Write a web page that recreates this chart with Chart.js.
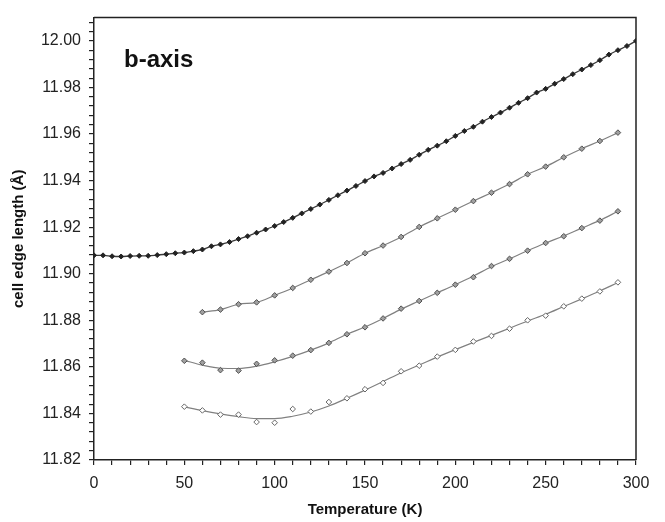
<!DOCTYPE html>
<html>
<head>
<meta charset="utf-8">
<script src="https://cdn.jsdelivr.net/npm/chart.js@4.4.1/dist/chart.umd.min.js"></script>
<style>
  html, body { margin: 0; padding: 0; background: #fff; }
  #wrap { width: 665px; height: 522px; }
</style>
</head>
<body>
<div id="wrap"><canvas id="chart" width="665" height="522"></canvas></div>
<script>
// axis tick labels
const xMajorLabels = [0, 50, 100, 150, 200, 250, 300];
const yMajorLabels = ['11.82', '11.84', '11.86', '11.88', '11.90', '11.92', '11.94', '11.96', '11.98', '12.00'];

// top curve (filled markers, every 5 K)
const tempTop = [0, 5, 10, 15, 20, 25, 30, 35, 40, 45, 50, 55, 60, 65, 70, 75, 80, 85, 90, 95,
  100, 105, 110, 115, 120, 125, 130, 135, 140, 145, 150, 155, 160, 165, 170, 175, 180, 185, 190, 195,
  200, 205, 210, 215, 220, 225, 230, 235, 240, 245, 250, 255, 260, 265, 270, 275, 280, 285, 290, 295, 300];
const cellTop = [11.9079, 11.9079, 11.9075, 11.9074, 11.9076, 11.9077, 11.9077, 11.9080, 11.9084, 11.9088,
  11.9091, 11.9097, 11.9104, 11.9118, 11.9126, 11.9136, 11.9149, 11.9161, 11.9176, 11.9190,
  11.9205, 11.9222, 11.9240, 11.9259, 11.9278, 11.9297, 11.9317, 11.9337, 11.9357, 11.9377,
  11.9398, 11.9418, 11.9433, 11.9452, 11.9471, 11.9489, 11.9511, 11.9532, 11.9550, 11.9569,
  11.9592, 11.9613, 11.9631, 11.9653, 11.9673, 11.9692, 11.9713, 11.9734, 11.9754, 11.9778,
  11.9794, 11.9816, 11.9836, 11.9857, 11.9877, 11.9896, 11.9917, 11.9941, 11.9960, 11.9978, 12.0000];

// second curve
const tempB = [60, 70, 80, 90, 100, 110, 120, 130, 140, 150, 160, 170, 180, 190, 200, 210, 220, 230, 240, 250, 260, 270, 280, 290];
const cellB = [11.8835, 11.8846, 11.8869, 11.8877, 11.8907, 11.8939, 11.8974, 11.9009, 11.9046, 11.9088,
  11.9121, 11.9158, 11.9201, 11.9238, 11.9275, 11.9312, 11.9348, 11.9385, 11.9427, 11.9460,
  11.9500, 11.9537, 11.9570, 11.9606];

// third and fourth curves share the same temperatures
const tempCD = [50, 60, 70, 80, 90, 100, 110, 120, 130, 140, 150, 160, 170, 180, 190, 200, 210, 220, 230, 240, 250, 260, 270, 280, 290];
const cellC = [11.8626, 11.8618, 11.8586, 11.8584, 11.8613, 11.8628, 11.8648, 11.8672, 11.8703, 11.8740,
  11.8770, 11.8808, 11.8850, 11.8883, 11.8918, 11.8953, 11.8985, 11.9033, 11.9064, 11.9099,
  11.9132, 11.9161, 11.9196, 11.9228, 11.9268];
const fitC = [11.8628, 11.8607, 11.8594, 11.8593, 11.8603, 11.8622, 11.8645, 11.8672, 11.8703, 11.8740,
  11.8771, 11.8808, 11.8848, 11.8883, 11.8918, 11.8953, 11.8990, 11.9030, 11.9064, 11.9099,
  11.9132, 11.9162, 11.9196, 11.9229, 11.9268];
const cellD = [11.8429, 11.8413, 11.8395, 11.8395, 11.8363, 11.8360, 11.8419, 11.8408, 11.8449, 11.8465,
  11.8504, 11.8531, 11.8581, 11.8605, 11.8644, 11.8673, 11.8709, 11.8733, 11.8764, 11.8800,
  11.8820, 11.8860, 11.8893, 11.8924, 11.8963];
const fitD = [11.8428, 11.8412, 11.8398, 11.8386, 11.8378, 11.8378, 11.8388, 11.8406, 11.8432, 11.8465,
  11.8500, 11.8537, 11.8575, 11.8608, 11.8642, 11.8674, 11.8705, 11.8735, 11.8766, 11.8797,
  11.8826, 11.8859, 11.8892, 11.8926, 11.8962];

const FONT = '"Liberation Sans", Arial, sans-serif';

function pts(xs, ys) {
  return xs.map((x, i) => ({ x: x, y: ys[i] }));
}

// box round the plot and the panel label
const framePlugin = {
  id: 'frame',
  beforeDatasetsDraw(chart) {
    const a = chart.chartArea, ctx = chart.ctx;
    ctx.save();
    ctx.strokeStyle = '#222';
    ctx.lineWidth = 1.5;
    ctx.beginPath();
    ctx.moveTo(a.left, a.top);
    ctx.lineTo(a.right, a.top);
    ctx.lineTo(a.right, a.bottom);
    ctx.stroke();
    ctx.fillStyle = '#111';
    ctx.font = 'bold 24px ' + FONT;
    ctx.textBaseline = 'alphabetic';
    ctx.fillText('b-axis', a.left + 30, a.top + 49);
    ctx.restore();
  }
};

const lineStyle = {
  showLine: true, pointRadius: 0, borderColor: '#808080', borderWidth: 1.2,
  cubicInterpolationMode: 'monotone', order: 2
};
const markStyle = {
  showLine: false, pointStyle: 'rectRot', pointRadius: 2.8, pointBorderWidth: 1,
  pointBorderColor: '#505050', pointBackgroundColor: '#a0a0a0', order: 1
};

new Chart(document.getElementById('chart'), {
  type: 'scatter',
  data: {
    datasets: [
      Object.assign({}, markStyle, { data: pts(tempTop, cellTop), pointBackgroundColor: '#222', pointBorderColor: '#222', pointRadius: 2.5 }),
      Object.assign({}, markStyle, { data: pts(tempB, cellB) }),
      Object.assign({}, markStyle, { data: pts(tempCD, cellC) }),
      Object.assign({}, markStyle, { data: pts(tempCD, cellD), pointBackgroundColor: '#fff', pointBorderColor: '#666' }),
      Object.assign({}, lineStyle, { data: pts(tempTop, cellTop), borderColor: '#3a3a3a', borderWidth: 1.3 }),
      Object.assign({}, lineStyle, { data: pts(tempB, cellB) }),
      Object.assign({}, lineStyle, { data: pts(tempCD, fitC) }),
      Object.assign({}, lineStyle, { data: pts(tempCD, fitD) })
    ]
  },
  options: {
    responsive: false,
    animation: false,
    layout: { padding: { left: 0, right: 29, top: 6, bottom: 0 } },
    plugins: { legend: { display: false }, tooltip: { enabled: false } },
    scales: {
      x: {
        type: 'linear', min: 0, max: 300,
        afterFit(s) { s.height = 62; },
        afterBuildTicks(s) {
          const t = [];
          for (let v = 0; v <= 300; v += 10) t.push({ value: v });
          s.ticks = t;
        },
        ticks: {
          autoSkip: false, maxRotation: 0, padding: 9, color: '#222',
          font: { family: FONT, size: 16 },
          callback: v => xMajorLabels.includes(v) ? String(v) : ''
        },
        grid: { drawOnChartArea: false, drawTicks: true, tickLength: 5, color: '#222', lineWidth: 1.2 },
        border: { display: true, color: '#222', width: 1.5 },
        title: {
          display: true, text: 'Temperature (K)', color: '#111',
          font: { family: FONT, size: 15, weight: 'bold' }, padding: { top: 4, bottom: 3 }
        }
      },
      y: {
        type: 'linear', min: 11.82, max: 12.01,
        afterFit(s) { s.width = 94; },
        afterBuildTicks(s) {
          const t = [];
          for (let i = 0; i <= 47; i++) t.push({ value: +(11.82 + i * 0.004).toFixed(3) });
          s.ticks = t;
        },
        ticks: {
          autoSkip: false, padding: 8, color: '#222',
          font: { family: FONT, size: 16 },
          callback: v => yMajorLabels.find(l => Math.abs(parseFloat(l) - v) < 1e-6) || ''
        },
        grid: { drawOnChartArea: false, drawTicks: true, tickLength: 5, color: '#222', lineWidth: 1.2 },
        border: { display: true, color: '#222', width: 1.5 },
        title: {
          display: true, text: 'cell edge length (Å)', color: '#111',
          font: { family: FONT, size: 15, weight: 'bold' }, padding: { top: 10, bottom: 10 }
        }
      }
    }
  },
  plugins: [framePlugin]
});
</script>
</body>
</html>
